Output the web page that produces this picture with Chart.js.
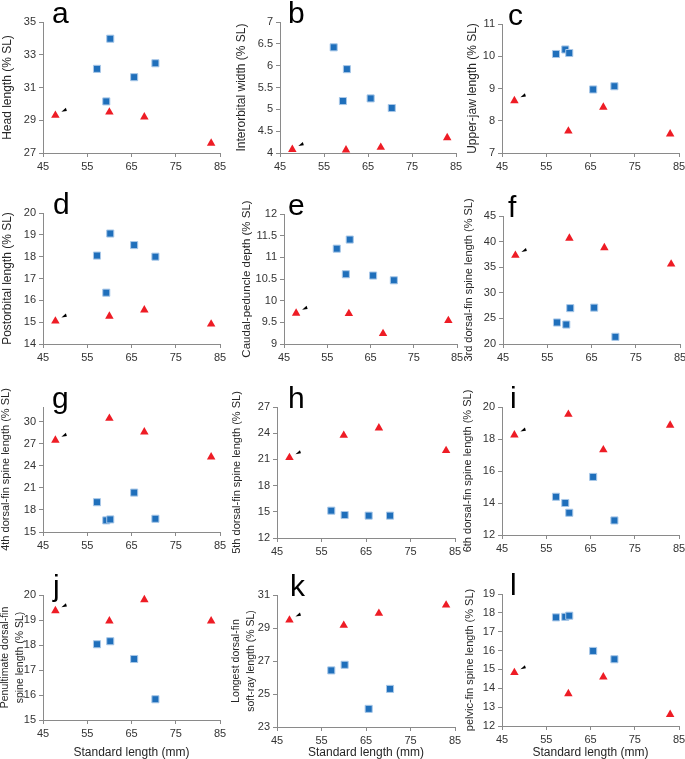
<!DOCTYPE html>
<html><head><meta charset="utf-8">
<script src="https://cdn.jsdelivr.net/npm/chart.js@4/dist/chart.umd.min.js"></script>
<style>
html,body{margin:0;padding:0;width:685px;height:759px;overflow:hidden;background:#fff;position:relative;}
canvas{position:absolute;}
</style></head><body>
<script>
// ---- data ----
const standardLengthBlue = [57.2, 59.3, 60.2, 65.6, 70.4];
const standardLengthRed = [47.8, 60.0, 67.9, 83.0];
const xTickValues = [45, 55, 65, 75, 85];

const headBlue = [32.14, 30.15, 33.98, 31.63, 32.48];
const headRed = [29.3, 29.5, 29.2, 27.6];
const headTicks = [27, 29, 31, 33, 35];

const interorbitalBlue = [6.42, 5.19, 5.92, 5.25, 5.03];
const interorbitalRed = [4.08, 4.07, 4.13, 4.35];
const interorbitalTicks = [4, 4.5, 5, 5.5, 6, 6.5, 7];

const upperJawBlue = [10.07, 10.21, 10.10, 8.97, 9.07];
const upperJawRed = [8.62, 7.68, 8.42, 7.59];
const upperJawTicks = [7, 8, 9, 10, 11];

const postorbitalBlue = [18.05, 16.35, 19.06, 18.53, 18.0];
const postorbitalRed = [15.05, 15.27, 15.56, 14.91];
const postorbitalTicks = [14, 15, 16, 17, 18, 19, 20];

const caudalBlue = [11.2, 10.61, 11.41, 10.58, 10.47];
const caudalRed = [9.71, 9.70, 9.24, 9.54];
const caudalTicks = [9, 9.5, 10, 10.5, 11, 11.5, 12];

const spine3Blue = [24.2, 23.8, 27.0, 27.1, 21.4];
const spine3Red = [37.3, 40.65, 38.8, 35.6];
const spine3Ticks = [20, 25, 30, 35, 40, 45];

const spine4Blue = [19.05, 16.58, 16.71, 20.36, 16.8];
const spine4Red = [27.48, 30.45, 28.6, 25.2];
const spine4Ticks = [15, 18, 21, 24, 27, 30];

const spine5Blue = [15.13, null, 14.63, 14.56, 14.56];
const spine5Red = [21.2, 23.76, 24.6, 22.0];
const spine5Ticks = [12, 15, 18, 21, 24, 27];

const spine6Blue = [14.39, 14.0, 13.39, 15.63, 12.91];
const spine6Red = [18.25, 19.54, 17.32, 18.86];
const spine6Ticks = [12, 14, 16, 18, 20];

const penultimateBlue = [18.03, null, 18.15, 17.44, 15.83];
const penultimateRed = [19.37, 18.96, 19.81, 18.96];
const penultimateTicks = [15, 16, 17, 18, 19, 20];

const softRayBlue = [26.43, null, 26.77, 24.1, 25.31];
const softRayRed = [29.48, 29.16, 29.89, 30.39];
const softRayTicks = [23, 25, 27, 29, 31];

const pelvicBlue = [17.76, 17.79, 17.85, 15.98, 15.54];
const pelvicRed = [14.83, 13.71, 14.6, 12.61];
const pelvicTicks = [12, 13, 14, 15, 16, 17, 18, 19];

const xTitle = 'Standard length (mm)';

const panels = [
  {letter:'a', title:'Head length (% SL)', blue:headBlue, red:headRed, yMin:27, yMax:35, ticks:headTicks},
  {letter:'b', title:'Interorbital width (% SL)', blue:interorbitalBlue, red:interorbitalRed, yMin:4, yMax:7, ticks:interorbitalTicks},
  {letter:'c', title:'Upper-jaw length (% SL)', blue:upperJawBlue, red:upperJawRed, yMin:7, yMax:11, ticks:upperJawTicks},
  {letter:'d', title:'Postorbital length (% SL)', blue:postorbitalBlue, red:postorbitalRed, yMin:14, yMax:20, ticks:postorbitalTicks},
  {letter:'e', title:'Caudal-peduncle depth (% SL)', blue:caudalBlue, red:caudalRed, yMin:9, yMax:12, ticks:caudalTicks},
  {letter:'f', title:'3rd dorsal-fin spine length (% SL)', blue:spine3Blue, red:spine3Red, yMin:20, yMax:45, ticks:spine3Ticks},
  {letter:'g', title:'4th dorsal-fin spine length (% SL)', blue:spine4Blue, red:spine4Red, yMin:15, yMax:32, ticks:spine4Ticks},
  {letter:'h', title:'5th dorsal-fin spine length (% SL)', blue:spine5Blue, red:spine5Red, yMin:12, yMax:27, ticks:spine5Ticks},
  {letter:'i', title:'6th dorsal-fin spine length (% SL)', blue:spine6Blue, red:spine6Red, yMin:12, yMax:20, ticks:spine6Ticks},
  {letter:'j', title:['Penultimate dorsal-fin','spine length (% SL)'], blue:penultimateBlue, red:penultimateRed, yMin:15, yMax:20, ticks:penultimateTicks},
  {letter:'k', title:['Longest dorsal-fin','soft-ray length (% SL)'], blue:softRayBlue, red:softRayRed, yMin:23, yMax:31, ticks:softRayTicks},
  {letter:'l', title:'pelvic-fin spine length (% SL)', blue:pelvicBlue, red:pelvicRed, yMin:12, yMax:19, ticks:pelvicTicks}
];

// ---- layout (pixel geometry of each panel's plot area) ----
const geom = [
  {L:43, T:22, R:220, B:153, tx:8, dx:9, fs:12, lh:14},
  {L:280, T:22, R:456, B:153, tx:242, dx:8, fs:12, lh:14},
  {L:502, T:24, R:679, B:153, tx:473, dx:6, fs:12, lh:14},
  {L:43, T:213, R:220, B:344, tx:8, dx:10, fs:12, lh:14},
  {L:284, T:214, R:457, B:344, tx:247, dx:4, fs:11.5, lh:14},
  {L:503, T:216, R:680, B:344, tx:469, dx:5, fs:11, lh:13},
  {L:43, T:407, R:220, B:532, tx:6, dx:9, fs:11, lh:13},
  {L:277, T:407, R:455, B:538, tx:237, dx:11, fs:11, lh:13},
  {L:502, T:407, R:679, B:535, tx:468, dx:8, fs:11, lh:13},
  {L:43, T:595, R:220, B:720, tx:5, dx:10, fs:10.5, lh:15},
  {L:277, T:595, R:455, B:727, tx:236, dx:13, fs:10.5, lh:15},
  {L:502, T:594, R:679, B:726, tx:470, dx:8, fs:11, lh:13}
];
const colLeft = [0, 225, 455];
const FAMILY = '"Liberation Sans", Arial, Helvetica, sans-serif';
const axisColor = '#8a8a8a';
const tickColor = '#333333';

function makePanel(p, g, idx) {
  const CL = colLeft[idx % 3] - 10;
  const bottomRow = idx >= 9;
  const CT = g.T - 40;
  const canvasBottom = bottomRow ? 762 : g.B + 30;
  const W = g.R + 14 - CL;
  const H = canvasBottom - CT;
  const canvas = document.createElement('canvas');
  canvas.width = W; canvas.height = H;
  canvas.style.left = CL + 'px'; canvas.style.top = CT + 'px';
  canvas.style.width = W + 'px'; canvas.style.height = H + 'px';
  document.body.appendChild(canvas);

  const blueData = [];
  standardLengthBlue.forEach((x, i) => { if (p.blue[i] !== null) blueData.push({x: x, y: p.blue[i]}); });
  const redData = standardLengthRed.map((x, i) => ({x: x, y: p.red[i]}));

  const deco = {
    id: 'deco' + idx,
    afterDatasetsDraw(chart) {
      const ctx = chart.ctx, ca = chart.chartArea;
      ctx.save();
      ctx.fillStyle = '#000';
      ctx.font = '30px ' + FAMILY;
      ctx.textBaseline = 'alphabetic';
      ctx.textAlign = 'left';
      ctx.fillText(p.letter, ca.left + g.dx, ca.top + 1);
      const pt = chart.getDatasetMeta(1).data[0];
      if (pt) {
        const x = pt.x, y = pt.y;
        ctx.beginPath();
        ctx.moveTo(x + 6, y - 3.5);
        ctx.lineTo(x + 10.5, y - 7.5);
        ctx.lineTo(x + 11.5, y - 4.3);
        ctx.closePath();
        ctx.fill();
        ctx.restore();
      } else ctx.restore();
    }
  };

  new Chart(canvas, {
    type: 'scatter',
    data: {
      datasets: [
        {data: blueData, pointStyle: 'rect', pointRadius: 5, backgroundColor: '#1f6fbb', borderColor: '#a9c8e8', borderWidth: 1, showLine: false, clip: false},
        {data: redData, pointStyle: 'triangle', pointRadius: 4.9, backgroundColor: '#ee1c25', borderColor: '#ee1c25', borderWidth: 0, showLine: false, clip: false}
      ]
    },
    options: {
      responsive: false, animation: false, devicePixelRatio: 1, events: [],
      layout: {padding: {top: g.T - CT, right: 14, left: 0, bottom: 0}},
      plugins: {legend: {display: false}, tooltip: {enabled: false}},
      scales: {
        x: {
          type: 'linear', position: 'bottom', min: 45, max: 85,
          afterBuildTicks: s => { s.ticks = xTickValues.map(v => ({value: v})); },
          afterFit: s => { s.height = canvasBottom - g.B; },
          grid: {display: true, drawOnChartArea: false, drawTicks: true, tickLength: 4, color: axisColor, tickColor: axisColor, lineWidth: 1},
          border: {display: true, color: axisColor, width: 1},
          ticks: {font: {family: FAMILY, size: 11}, color: tickColor, padding: 3, maxRotation: 0, autoSkip: false, callback: v => String(v)},
          title: bottomRow ? {display: true, text: xTitle, color: '#262626', font: {family: FAMILY, size: 12, lineHeight: 1.2}, padding: {top: 0, bottom: canvasBottom - 753 - 7.2}} : {display: false}
        },
        y: {
          type: 'linear', position: 'left', min: p.yMin, max: p.yMax,
          afterBuildTicks: s => { s.ticks = p.ticks.map(v => ({value: v})); },
          afterFit: s => { s.width = g.L - CL; },
          grid: {display: true, drawOnChartArea: false, drawTicks: true, tickLength: 4, color: axisColor, tickColor: axisColor, lineWidth: 1},
          border: {display: true, color: axisColor, width: 1},
          ticks: {font: {family: FAMILY, size: 11}, color: tickColor, padding: 3, autoSkip: false, callback: v => String(v)},
          title: {display: true, text: p.title, color: '#262626', font: {family: FAMILY, size: g.fs, lineHeight: g.lh / g.fs}, padding: {top: g.tx - CL - g.lh / 2, bottom: 0}}
        }
      }
    },
    plugins: [deco]
  });
}

panels.forEach((p, i) => makePanel(p, geom[i], i));
</script>
</body></html>
